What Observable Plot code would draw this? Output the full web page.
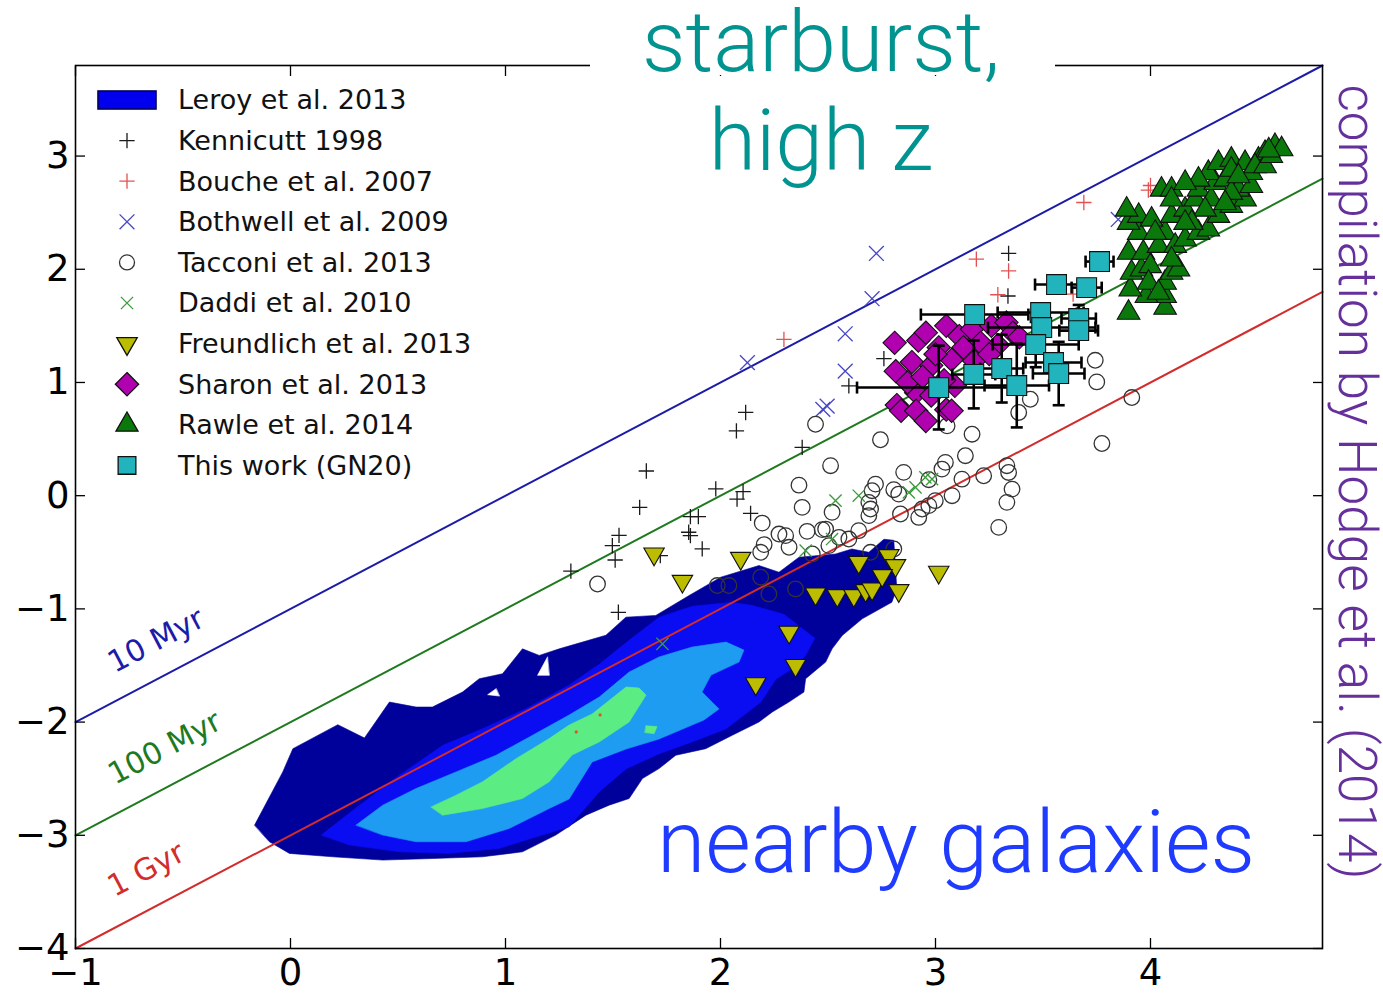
<!DOCTYPE html>
<html>
<head>
<meta charset="utf-8">
<script src="https://cdn.jsdelivr.net/npm/d3@7"></script>
<script src="https://cdn.jsdelivr.net/npm/@observablehq/plot@0.6"></script>
<style>
  html, body { margin: 0; padding: 0; background: #fff; overflow: hidden; }
</style>
</head>
<body>
<div id="chart"></div>
<script>
// ---- Axis ticks ----
const xTicks = [-1, 0, 1, 2, 3, 4];
const yTicks = [-4, -3, -2, -1, 0, 1, 2, 3];

// ---- Constant depletion-time lines (log SFR = log M_gas - log t_dep) ----
const depletionX = [-1, 4.8];
const depletion10Myr = [-2, 3.8];
const depletion100Myr = [-3, 2.8];
const depletion1Gyr = [-4, 1.8];

// ---- Leroy et al. 2013: filled density contours (outer to inner) ----
const leroyLevel1 = [[-0.167,-2.910],[-0.036,-2.440],[0.011,-2.235],[0.220,-2.023],[0.344,-2.140],[0.460,-1.823],[0.584,-1.867],[0.660,-1.867],[0.800,-1.735],[0.878,-1.617],[0.986,-1.573],[1.079,-1.353],[1.157,-1.411],[1.250,-1.353],[1.467,-1.233],[1.560,-1.073],[1.699,-1.058],[1.854,-0.882],[2.001,-0.720],[2.179,-0.617],[2.272,-0.676],[2.365,-0.544],[2.535,-0.515],[2.611,-0.471],[2.690,-0.500],[2.760,-0.385],[2.806,-0.394],[2.820,-0.824],[2.797,-0.941],[2.659,-1.088],[2.566,-1.235],[2.519,-1.353],[2.489,-1.470],[2.396,-1.617],[2.388,-1.735],[2.318,-1.823],[2.241,-1.911],[2.179,-1.999],[2.055,-2.116],[1.931,-2.235],[1.792,-2.293],[1.714,-2.411],[1.637,-2.499],[1.575,-2.675],[1.482,-2.734],[1.374,-2.822],[1.234,-2.998],[1.079,-3.146],[0.893,-3.190],[0.661,-3.205],[0.429,-3.219],[0.197,-3.190],[-0.005,-3.160],[-0.098,-3.057]];
const leroyGapA = [[1.195,-1.426],[1.149,-1.587],[1.203,-1.587]];
const leroyGapB = [[0.956,-1.705],[0.917,-1.758],[0.971,-1.770]];
const leroyLevel2 = [[0.143,-2.998],[0.321,-2.734],[0.506,-2.469],[0.708,-2.205],[0.893,-2.058],[1.095,-1.882],[1.296,-1.673],[1.436,-1.488],[1.575,-1.276],[1.714,-1.074],[1.868,-0.977],[2.053,-0.942],[2.146,-0.968],[2.295,-1.048],[2.439,-1.259],[2.397,-1.409],[2.332,-1.532],[2.258,-1.621],[2.188,-1.823],[2.026,-2.061],[1.868,-2.176],[1.714,-2.281],[1.561,-2.414],[1.436,-2.617],[1.296,-2.925],[1.172,-2.998],[0.971,-3.116],[0.739,-3.161],[0.506,-3.146],[0.274,-3.086]];
const leroyLevel3 = [[0.305,-2.910],[0.429,-2.734],[0.584,-2.587],[0.770,-2.440],[0.956,-2.293],[1.126,-2.116],[1.296,-1.937],[1.436,-1.779],[1.575,-1.558],[1.714,-1.425],[1.868,-1.337],[2.026,-1.293],[2.109,-1.364],[2.086,-1.470],[1.956,-1.585],[1.914,-1.735],[1.993,-1.885],[1.923,-1.982],[1.868,-2.026],[1.714,-2.150],[1.561,-2.238],[1.403,-2.352],[1.296,-2.679],[1.203,-2.764],[1.017,-2.940],[0.816,-3.057],[0.584,-3.057],[0.429,-2.998]];
const leroyLevel4 = [[0.654,-2.749],[0.770,-2.646],[0.893,-2.528],[1.049,-2.323],[1.203,-2.146],[1.296,-2.026],[1.403,-1.928],[1.561,-1.690],[1.621,-1.699],[1.654,-1.761],[1.575,-1.999],[1.436,-2.175],[1.310,-2.290],[1.203,-2.528],[1.079,-2.675],[0.893,-2.764],[0.708,-2.822]];
const leroyLevel4b = [[1.654,-2.032],[1.705,-2.040],[1.691,-2.102],[1.649,-2.093]];
const leroyPeak = [[1.329,-2.087],[1.440,-1.937]];

// ---- Point samples ----
const kennicutt = [[1.304,-0.667],[1.497,-0.441],[1.510,-0.568],[1.528,-0.351],[1.525,-1.030],[1.624,-0.103],[1.655,0.218],[1.720,-0.530],[1.852,-0.323],[1.860,-0.353],[1.860,-0.185],[1.897,-0.185],[1.915,-0.470],[1.978,0.060],[2.074,0.573],[2.077,-0.030],[2.105,0.035],[2.117,0.735],[2.140,-0.156],[2.380,0.426],[2.597,0.970],[2.760,1.210],[3.340,2.140],[3.337,1.764]];
const bouche = [[2.295,1.380],[3.190,2.090],[3.340,1.985],[3.290,1.775],[3.640,1.780],[3.690,2.590],[3.990,2.700],[4.000,2.740]];
const bothwell = [[2.125,1.175],[2.476,0.762],[2.496,0.791],[2.580,1.100],[2.580,1.430],[2.705,1.740],[2.725,2.140],[3.850,2.440]];
const tacconi = [[2.442,0.631],[2.512,0.265],[2.365,0.093],[2.380,-0.103],[2.519,-0.147],[2.194,-0.242],[2.272,-0.339],[2.303,-0.353],[2.403,-0.315],[2.473,-0.300],[2.203,-0.432],[2.187,-0.500],[2.319,-0.456],[2.427,-0.515],[1.428,-0.780],[1.985,-0.794],[2.039,-0.794],[2.187,-0.720],[2.349,-0.824],[2.225,-0.868],[2.744,0.494],[3.170,0.543],[3.054,0.617],[3.139,0.353],[3.046,0.294],[3.030,0.235],[2.852,0.206],[2.721,0.102],[2.705,0.044],[2.806,0.053],[2.829,0.014],[2.969,0.141],[3.123,0.146],[3.224,0.176],[3.332,0.265],[3.340,0.205],[3.356,0.058],[3.332,-0.059],[3.294,-0.280],[3.077,0.000],[2.999,-0.044],[2.969,-0.088],[2.837,-0.162],[2.922,-0.192],[2.938,-0.118],[2.690,-0.059],[2.698,-0.118],[2.690,-0.176],[2.489,-0.295],[2.551,-0.368],[2.597,-0.383],[2.504,-0.441],[2.643,-0.309],[2.698,-0.500],[2.806,-0.471],[3.387,0.735],[3.743,1.196],[3.750,1.005],[3.913,0.867],[3.774,0.461],[3.441,0.852]];
const daddi = [[2.396,-0.485],[2.519,-0.383],[2.535,-0.044],[2.643,0.000],[2.876,0.029],[2.907,0.073],[2.953,0.162],[2.984,0.146],[1.730,-1.309]];
const freundlich = [[1.691,-0.515],[2.094,-0.553],[1.823,-0.756],[2.442,-0.868],[2.543,-0.882],[2.620,-0.882],[2.675,-0.838],[2.705,-0.824],[2.643,-0.588],[2.783,-0.529],[2.814,-0.617],[2.752,-0.705],[2.829,-0.838],[3.015,-0.676],[2.319,-1.205],[2.349,-1.499],[2.164,-1.661]];
const sharon = [[2.810,1.350],[2.920,1.370],[2.955,1.440],[3.050,1.500],[3.110,1.410],[3.170,1.470],[3.260,1.500],[3.330,1.530],[3.360,1.440],[3.290,1.330],[3.210,1.350],[2.815,1.100],[2.890,1.180],[2.980,1.150],[3.075,1.200],[3.180,1.190],[3.250,1.250],[3.090,0.970],[2.910,0.910],[2.980,0.885],[3.040,1.020],[2.820,0.800],[2.840,0.750],[2.910,0.750],[2.955,0.660],[3.050,0.760],[3.075,0.750],[3.015,1.310],[3.130,1.310],[3.390,1.400],[2.870,1.000],[3.000,1.250],[2.940,1.050]];
const rawle = [[3.898,1.616],[4.068,1.660],[4.068,1.764],[3.981,1.764],[3.906,1.822],[3.912,1.969],[3.958,1.998],[4.068,1.881],[4.098,1.969],[4.130,1.998],[3.898,2.146],[3.967,2.146],[4.037,2.207],[4.068,2.322],[4.115,2.207],[4.161,2.263],[4.223,2.322],[4.269,2.351],[3.945,2.322],[3.898,2.410],[3.945,2.472],[3.889,2.527],[4.005,2.439],[4.098,2.472],[4.051,2.704],[4.098,2.704],[4.161,2.527],[4.208,2.616],[4.223,2.704],[4.283,2.616],[4.301,2.763],[4.269,2.851],[4.347,2.792],[4.316,2.472],[4.376,2.560],[4.440,2.616],[4.409,2.704],[4.469,2.736],[4.316,2.939],[4.376,2.968],[4.440,2.939],[4.469,2.851],[4.502,2.968],[4.533,3.027],[4.579,3.089],[4.486,2.910],[4.376,2.880],[4.254,2.527],[4.192,2.410],[4.161,2.410],[4.022,2.322],[3.999,2.028],[4.098,2.086],[3.991,1.881],[4.037,1.793],[4.223,2.792],[4.161,2.763],[4.098,2.616],[4.376,2.675],[4.347,2.586],[4.409,2.822],[4.533,2.910],[4.562,3.001],[4.610,3.060],[4.550,3.050]];
// GN20: [x, y, x error, y error]
const gn20 = [[3.182,1.600,0.25,0],[3.563,1.865,0.10,0],[3.703,1.838,0.07,0],[3.763,2.068,0.065,0],[3.489,1.618,0.20,0],[3.666,1.565,0.08,0.12],[3.666,1.458,0.09,0],[3.494,1.485,0.25,0],[3.466,1.335,0.20,0.20],[3.549,1.176,0.13,0],[3.573,1.079,0.12,0.28],[3.308,1.123,0.10,0.30],[3.378,0.973,0.15,0.37],[3.015,0.955,0.38,0.37],[3.178,1.071,0.10,0.30]];

// ---- Custom marker shapes ----
const triangleDown = {
  draw(context, size) {
    const y = -Math.sqrt(size / (Math.sqrt(3) * 3));
    context.moveTo(0, -y * 2);
    context.lineTo(-Math.sqrt(3) * y, y);
    context.lineTo(Math.sqrt(3) * y, y);
    context.closePath();
  }
};
const capV = { draw(context, size) { const h = Math.sqrt(size / Math.PI); context.moveTo(0, -h); context.lineTo(0, h); } };
const capH = { draw(context, size) { const h = Math.sqrt(size / Math.PI); context.moveTo(-h, 0); context.lineTo(h, 0); } };

const C = {
  navy: "#00009a", blue: "#0a0cf2", sky: "#1e9cf2", mint: "#5cec84",
  l10: "#1c1ca8", l100: "#1f7a1f", l1g: "#d22c2c",
  kenn: "#1a1a1a", bouche: "#e35252", bothwell: "#4646c8", tacconi: "#333333",
  daddi: "#3a9a3a", freund: "#bcbc00", sharon: "#b000b0", rawle: "#0a780a", gn20: "#22b4bc"
};

const xy = {x: d => d[0], y: d => d[1]};
const region = (pts, fill) => Plot.line(pts, {...xy, fill, stroke: fill, strokeWidth: 0.6, curve: "linear-closed"});
const minus = d => d < 0 ? "\u2212" + Math.abs(d) : String(d);
const withX = gn20.filter(d => d[2] > 0);
const withY = gn20.filter(d => d[3] > 0);

const chart = Plot.plot({
  width: 1383,
  height: 996,
  marginLeft: 75,
  marginRight: 61,
  marginTop: 65,
  marginBottom: 48,
  x: {domain: [-1, 4.8]},
  y: {domain: [-4, 3.8]},
  style: {fontFamily: "'DejaVu Sans', sans-serif", fontSize: "37px", color: "#000", background: "#fff", overflow: "visible"},
  marks: [
    region(leroyLevel1, C.navy),
    region(leroyGapA, "#fff"),
    region(leroyGapB, "#fff"),
    region(leroyLevel2, C.blue),
    region(leroyLevel3, C.sky),
    region(leroyLevel4, C.mint),
    region(leroyLevel4b, C.mint),
    Plot.dot(leroyPeak, {...xy, r: 1.6, fill: "#e0502a"}),

    Plot.line(depletionX, {x: d => d, y: depletion10Myr, stroke: C.l10, strokeWidth: 2}),
    Plot.line(depletionX, {x: d => d, y: depletion100Myr, stroke: C.l100, strokeWidth: 2}),
    Plot.line(depletionX, {x: d => d, y: depletion1Gyr, stroke: C.l1g, strokeWidth: 2}),
    Plot.text(["10 Myr"], {x: [-0.625], y: [-1.28], text: d => d, rotate: -27.8, fill: C.l10, fontSize: 30}),
    Plot.text(["100 Myr"], {x: [-0.585], y: [-2.228], text: d => d, rotate: -27.8, fill: C.l100, fontSize: 30}),
    Plot.text(["1 Gyr"], {x: [-0.671], y: [-3.304], text: d => d, rotate: -27.8, fill: C.l1g, fontSize: 30}),

    Plot.dot(kennicutt, {...xy, symbol: "plus", r: 5, stroke: C.kenn, strokeWidth: 1.3}),
    Plot.dot(bouche, {...xy, symbol: "plus", r: 5, stroke: C.bouche, strokeWidth: 1.3}),
    Plot.dot(bothwell, {...xy, symbol: "times", r: 6.8, stroke: C.bothwell, strokeWidth: 1.3}),
    Plot.dot(tacconi, {...xy, r: 7.8, fill: "none", stroke: C.tacconi, strokeWidth: 1.3}),
    Plot.dot(daddi, {...xy, symbol: "times", r: 5.6, stroke: C.daddi, strokeWidth: 1.3}),
    Plot.dot(freundlich, {...xy, symbol: triangleDown, r: 7.6, fill: C.freund, stroke: "#111", strokeWidth: 1.1}),
    Plot.dot(sharon, {...xy, symbol: "diamond2", r: 10.5, fill: C.sharon, stroke: "#111", strokeWidth: 1.1}),
    Plot.dot(rawle, {...xy, symbol: "triangle", r: 8.4, fill: C.rawle, stroke: "#111", strokeWidth: 1.1}),

    Plot.link(withX, {x1: d => d[0] - d[2], x2: d => d[0] + d[2], y1: d => d[1], y2: d => d[1], stroke: "#000", strokeWidth: 2.6}),
    Plot.link(withY, {x1: d => d[0], x2: d => d[0], y1: d => d[1] - d[3], y2: d => d[1] + d[3], stroke: "#000", strokeWidth: 2.6}),
    Plot.dot(withX, {x: d => d[0] - d[2], y: d => d[1], symbol: capV, r: 6, fill: "none", stroke: "#000", strokeWidth: 2.6}),
    Plot.dot(withX, {x: d => d[0] + d[2], y: d => d[1], symbol: capV, r: 6, fill: "none", stroke: "#000", strokeWidth: 2.6}),
    Plot.dot(withY, {x: d => d[0], y: d => d[1] - d[3], symbol: capH, r: 6, fill: "none", stroke: "#000", strokeWidth: 2.6}),
    Plot.dot(withY, {x: d => d[0], y: d => d[1] + d[3], symbol: capH, r: 6, fill: "none", stroke: "#000", strokeWidth: 2.6}),
    Plot.dot(gn20, {...xy, symbol: "square", r: 11.2, fill: C.gn20, stroke: "#111", strokeWidth: 1.1}),

    // inward ticks on all four sides, labels on left and bottom
    Plot.axisX({anchor: "bottom", ticks: xTicks, tickSize: 10, dy: -10, tickFormat: () => "", label: null, strokeWidth: 1.3}),
    Plot.axisX({anchor: "top", ticks: xTicks, tickSize: 10, dy: 10, tickFormat: () => "", label: null, strokeWidth: 1.3}),
    Plot.axisY({anchor: "left", ticks: yTicks, tickSize: 10, dx: 10, tickFormat: () => "", label: null, strokeWidth: 1.3}),
    Plot.axisY({anchor: "right", ticks: yTicks, tickSize: 10, dx: -10, tickFormat: () => "", label: null, strokeWidth: 1.3}),
    Plot.axisX({anchor: "bottom", ticks: xTicks, tickSize: 0, tickPadding: 10, tickFormat: minus, label: null, fontSize: 37}),
    Plot.axisY({anchor: "left", ticks: yTicks, tickSize: 0, tickPadding: 6, tickFormat: minus, label: null, fontSize: 37}),
    Plot.frame({stroke: "#000", strokeWidth: 1.6})
  ]
});

document.getElementById("chart").appendChild(chart);
const svg = d3.select(chart);

// ---- Legend ----
const legendItems = [
  {label: "Leroy et al. 2013", patch: true},
  {label: "Kennicutt 1998", symbol: d3.symbolPlus, r: 5, fill: "none", stroke: C.kenn},
  {label: "Bouche et al. 2007", symbol: d3.symbolPlus, r: 5, fill: "none", stroke: C.bouche},
  {label: "Bothwell et al. 2009", symbol: d3.symbolTimes, r: 6.8, fill: "none", stroke: C.bothwell},
  {label: "Tacconi et al. 2013", symbol: d3.symbolCircle, r: 7.5, fill: "none", stroke: C.tacconi},
  {label: "Daddi et al. 2010", symbol: d3.symbolTimes, r: 5.6, fill: "none", stroke: C.daddi},
  {label: "Freundlich et al. 2013", symbol: triangleDown, r: 7.6, fill: C.freund, stroke: "#111"},
  {label: "Sharon et al. 2013", symbol: d3.symbolDiamond2, r: 10.5, fill: C.sharon, stroke: "#111"},
  {label: "Rawle et al. 2014", symbol: d3.symbolTriangle, r: 8.2, fill: C.rawle, stroke: "#111"},
  {label: "This work (GN20)", symbol: d3.symbolSquare, r: 10, fill: C.gn20, stroke: "#111"}
];
const legend = svg.append("g")
  .attr("font-family", "'DejaVu Sans', sans-serif")
  .style("font-size", "27px")
  .attr("text-anchor", "start");
legendItems.forEach((item, i) => {
  const cy = 100 + i * 40.6;
  if (item.patch) {
    legend.append("rect").attr("x", 98).attr("y", cy - 9).attr("width", 58).attr("height", 18)
      .attr("fill", "#0000ee").attr("stroke", "#00005a").attr("stroke-width", 1.6);
  } else {
    legend.append("path").attr("transform", `translate(127,${cy})`)
      .attr("d", d3.symbol(item.symbol, Math.PI * item.r * item.r)())
      .attr("fill", item.fill).attr("stroke", item.stroke).attr("stroke-width", 1.3);
  }
  legend.append("text").attr("x", 178).attr("y", cy).attr("dy", "0.35em")
    .attr("text-anchor", "start").attr("fill", "#111").text(item.label);
});

// ---- Annotations ----
const note = svg.append("g").attr("font-family", "Roboto, 'Open Sans', sans-serif").attr("font-weight", 300);
note.append("rect").attr("x", 590).attr("y", 55).attr("width", 465).attr("height", 20).attr("fill", "#fff");
note.append("text").attr("x", 821).attr("y", 71).attr("text-anchor", "middle").style("font-size", "86px")
  .attr("fill", "#00938f").text("starburst,");
note.append("text").attr("x", 821).attr("y", 170).attr("text-anchor", "middle").style("font-size", "86px")
  .attr("fill", "#00938f").text("high z");
note.append("text").attr("x", 956).attr("y", 872).attr("text-anchor", "middle").style("font-size", "88px")
  .attr("fill", "#1f3bff").text("nearby galaxies");
note.append("text").attr("transform", "translate(1339,482) rotate(90)").attr("text-anchor", "middle")
  .style("font-size", "53px").attr("fill", "#66309c").text("compilation by Hodge et al. (2014)");
</script>
</body>
</html>
